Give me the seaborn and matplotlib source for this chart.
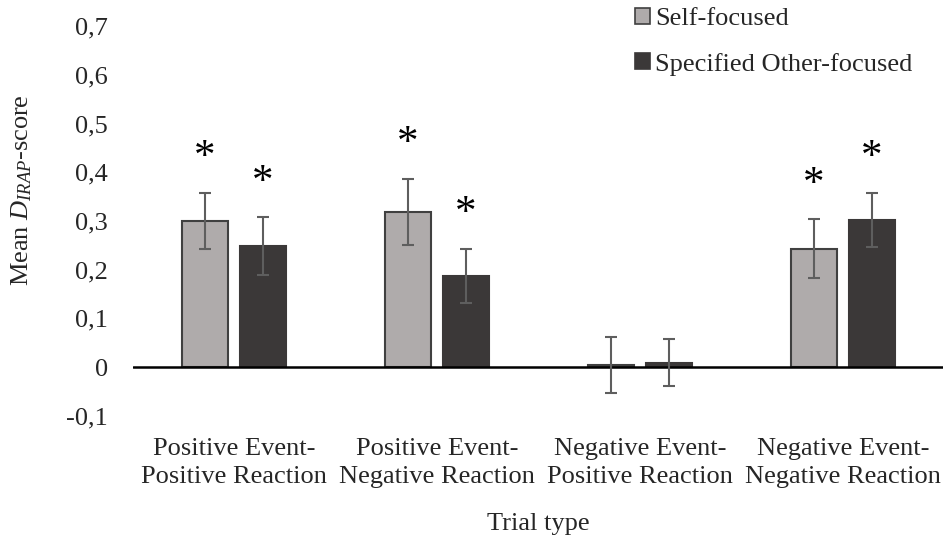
import matplotlib
matplotlib.use("Agg")
import matplotlib.pyplot as plt
from matplotlib.patches import Patch
import seaborn as sns
import pandas as pd

# ---- data ----
categories = ["Positive Event-\nPositive Reaction", "Positive Event-\nNegative Reaction",
              "Negative Event-\nPositive Reaction", "Negative Event-\nNegative Reaction"]
series_names = ["Self-focused", "Specified Other-focused"]
self_means = [0.300, 0.319, 0.004, 0.243]
self_err = [0.058, 0.068, 0.057, 0.060]
other_means = [0.248, 0.187, 0.009, 0.302]
other_err = [0.059, 0.056, 0.048, 0.055]
self_sig = [True, True, False, True]
other_sig = [True, True, False, True]
y_ticks = [-0.1, 0.0, 0.1, 0.2, 0.3, 0.4, 0.5, 0.6, 0.7]
y_ticklabels = ["-0,1", "0", "0,1", "0,2", "0,3", "0,4", "0,5", "0,6", "0,7"]

# ---- style ----
sns.set_style("white")
plt.rcParams["font.family"] = ["Liberation Serif", "DejaVu Serif"]
plt.rcParams["mathtext.fontset"] = "custom"
plt.rcParams["mathtext.rm"] = "Liberation Serif"
plt.rcParams["mathtext.it"] = "Liberation Serif:italic"
FS = 19
light = "#AFABAB"
dark = "#3B3838"
edge = "#404040"
errc = "#5E5E5E"

df = pd.DataFrame({
    "Trial type": categories * 2,
    "value": self_means + other_means,
    "series": [series_names[0]] * 4 + [series_names[1]] * 4,
})

fig = plt.figure(figsize=(9.43, 5.41), dpi=100)
W, H = 943, 541
ax = fig.add_axes([132.5 / W, (H - 415.7) / H, 812 / W, 389.6 / H])

sns.barplot(data=df, x="Trial type", y="value", hue="series", order=categories,
            hue_order=series_names, palette=[light, dark], width=0.571, gap=0.207,
            ax=ax, legend=False, saturation=1)

for cont, ec in zip(ax.containers, [edge, dark]):
    for b in cont:
        b.set_edgecolor(ec)
        b.set_linewidth(1.5)

ax.set_ylim(-0.1, 0.7)
ax.set_xlim(-0.5, 3.5)
ax.axhline(0, color="black", lw=1.8, zorder=2.5)

for cont, means, errs, sigs in zip(ax.containers, [self_means, other_means],
                                   [self_err, other_err], [self_sig, other_sig]):
    xs = [b.get_x() + b.get_width() / 2 for b in cont]
    ax.errorbar(xs, means, yerr=errs, fmt="none", ecolor=errc, elinewidth=1.5,
                capsize=4, capthick=1.5, zorder=3)
    for x, m, e, s in zip(xs, means, errs, sigs):
        if s:
            ax.text(x, m + e + 0.072, "*", ha="center", va="center", fontsize=31,
                    color="black")

for sp in ax.spines.values():
    sp.set_visible(False)

ax.set_yticks(y_ticks)
ax.set_yticklabels(y_ticklabels, fontsize=FS)
ax.tick_params(axis="y", length=0, pad=17.5)
ax.tick_params(axis="x", length=0, pad=16)
for lab in ax.get_xticklabels():
    lab.set_fontsize(FS)
    lab.set_linespacing(1.35)

ax.set_xlabel("Trial type", fontsize=FS)
ax.xaxis.set_label_coords(0.5, -(524 - 415.7) / 389.6)
ax.xaxis.label.set_va("center")
ax.set_ylabel(r"Mean $\mathit{D}_{\mathit{IRAP}}$-score", fontsize=FS)
ax.yaxis.set_label_coords((22 - 132.5) / 812, (415.7 - 190) / 389.6)
ax.yaxis.label.set_va("center")

handles = [Patch(facecolor=light, edgecolor=edge, linewidth=1.2),
           Patch(facecolor=dark, edgecolor=dark, linewidth=1.2)]
fig.legend(handles, series_names, loc="upper left",
           bbox_to_anchor=(635 / W, 1 - 8 / H), frameon=False, fontsize=FS,
           handlelength=0.56, handleheight=0.56, handletextpad=0.2,
           labelspacing=0.85, borderpad=0, borderaxespad=0)

fig.savefig("out.png", dpi=100)
